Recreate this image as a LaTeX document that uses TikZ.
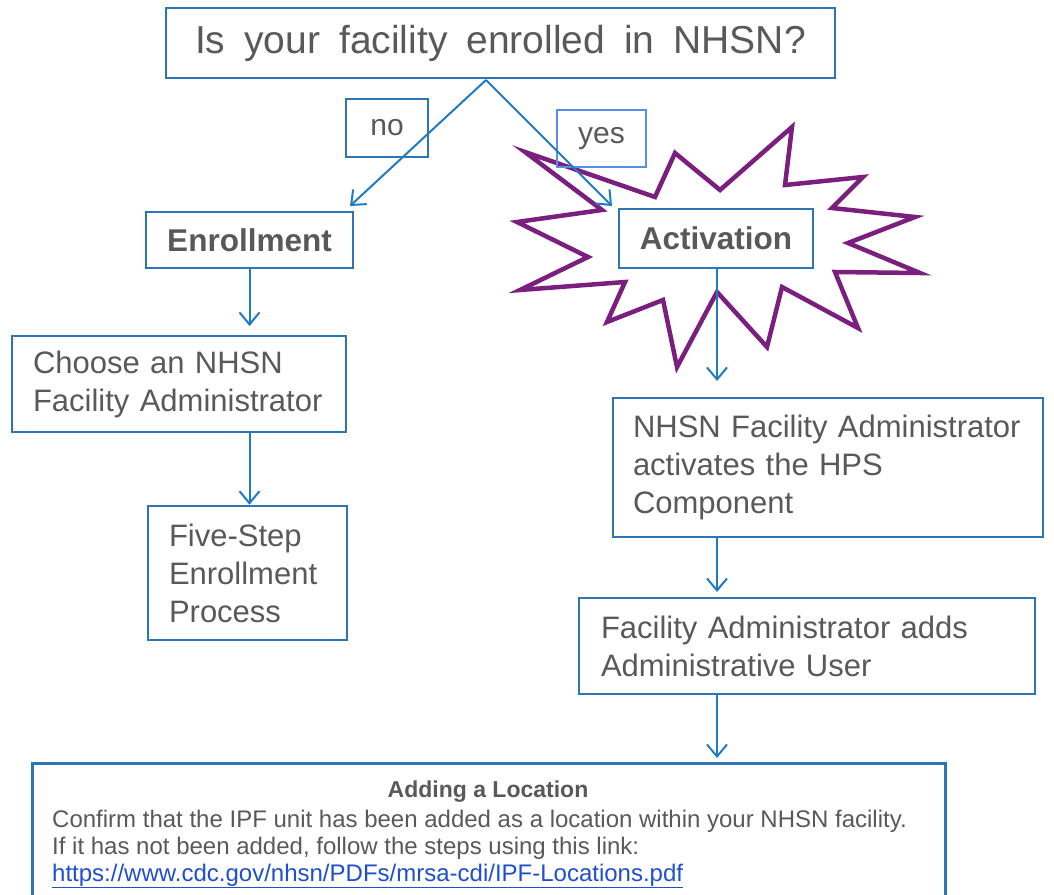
\documentclass[tikz,border=0pt]{standalone}
\usepackage{fontspec}
\setmainfont{Liberation Sans}
\usetikzlibrary{arrows.meta,positioning}
\definecolor{boxblue}{HTML}{2E75B6}
\definecolor{lightblue}{HTML}{5B8DEF}
\definecolor{arrowblue}{HTML}{1F7BC4}
\definecolor{txtgray}{HTML}{595959}
\definecolor{starpurple}{HTML}{7B1F7E}
\definecolor{linkblue}{HTML}{1F4FD0}

\tikzset{
  box/.style={draw=boxblue,line width=2.5pt,text=txtgray,inner sep=0pt,
    font=\fontsize{31}{38}\selectfont},
  leftbox/.style={box,align=left},
  arr/.style={-{Straight Barb[length=12pt,width=20pt]},draw=arrowblue,line width=2pt},
}
\newcommand{\wsp}{\hspace{19pt}}

\begin{document}
\begin{tikzpicture}[x=1pt,y=-1pt]
        \clip (0,0) rectangle (1054,894);
        % starburst behind activation
        \draw[starpurple,line width=4.5pt,line join=miter,fill=white]
            (525,152) -- (655,197) -- (675,153) -- (720,190) -- (792,127) -- (785,185)
            -- (863,177) -- (832,208) -- (915,217) -- (848,243) -- (920,273) -- (835,272)
            -- (858,328) -- (782,287) -- (767,347) -- (717,292) -- (677,367) -- (663,300)
            -- (607,322) -- (625,282) -- (520,290) -- (588,257) -- (517,222) -- (602,210) -- cycle;
        \node[box,minimum width=669,minimum height=70,font=\fontsize{39}{46}\selectfont] (Q) at (500.5,43)
            {Is\wsp your\wsp facility\wsp enrolled\wsp in\wsp NHSN?};
        \coordinate (Qs) at (486,80);
        \node[box,minimum width=82,minimum height=58,font=\fontsize{30}{36}\selectfont] (No) at (387,128) {no};
        \node[box,draw=lightblue,minimum width=89,minimum height=57,font=\fontsize{30}{36}\selectfont] (Yes) at (601.5,138.5) {yes};
        \node[box,minimum width=207,minimum height=56,font=\fontsize{31.5}{36}\bfseries] (Enr) at (249.5,240) {Enrollment};
        \node[box,fill=white,minimum width=194,minimum height=59,font=\fontsize{31.5}{36}\bfseries] (Act) at (716,238.5) {Activation};
        \node[leftbox,minimum width=334,minimum height=96,text width=292] (Choose) at (179,384)
            {Choose an NHSN\\Facility Administrator};
        \node[leftbox,minimum width=199,minimum height=134,text width=157] (Five) at (247.5,573)
            {Five-Step\\Enrollment\\Process};
        \node[leftbox,fill=white,minimum width=430,minimum height=139,text width=390] (Admin) at (828,467.5)
            {NHSN Facility Administrator\\activates the HPS\\Component};
        \node[leftbox,minimum width=456,minimum height=96,text width=412] (User) at (807,646)
            {Facility Administrator adds\\Administrative User};
        \node[box,anchor=north west,minimum width=913,minimum height=150] (Loc) at (31,762) {};
        \node[text=txtgray,anchor=base,inner sep=0pt,font=\fontsize{23}{28}\bfseries] (LocT) at (488,797) {Adding a Location};
        \node[text=txtgray,anchor=base west,align=left,inner sep=0pt,font=\fontsize{24}{27}\selectfont]
            (LocB) at (52,881) {Confirm that the IPF unit has been added as a location within your NHSN facility.\\
            If it has not been added, follow the steps using this link:\\
            \textcolor{linkblue}{\underline{https://www.cdc.gov/nhsn/PDFs/mrsa-cdi/IPF-Locations.pdf}}};
        \draw[arr] (Qs) -- (350,206);
        \draw[arr] (Qs) -- (612,206);
        \draw[arr] (Enr) -- (Enr |- 0,326);
        \draw[arr] (Choose.south -| Enr) -- (Enr |- Five.north);
        \draw[arr] (Act.south -| 717,0) -- (717,381);
        \draw[arr] (Admin.south -| 717,0) -- (717,592);
        \draw[arr] (User.south -| 717,0) -- (717,758);
\end{tikzpicture}
\end{document}
